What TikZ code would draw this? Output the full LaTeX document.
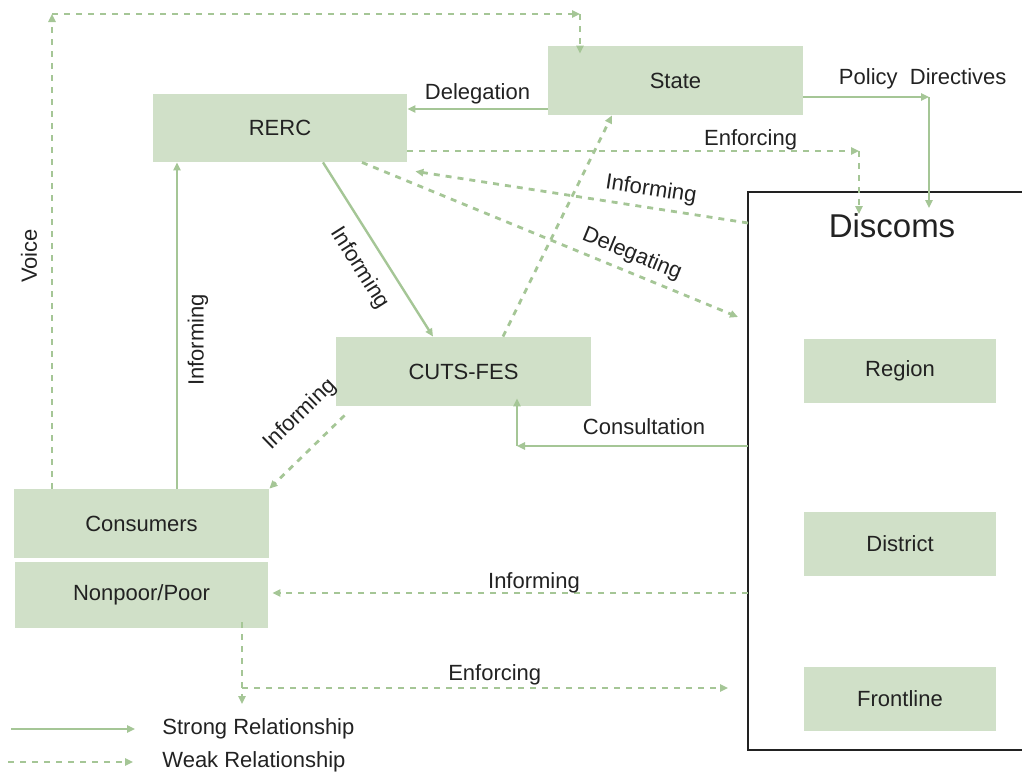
\documentclass[tikz,border=0pt]{standalone}
\usepackage{fontspec}
\setmainfont{Liberation Sans}
\usepackage{xcolor}
\usepackage{tikz}
\usetikzlibrary{positioning, calc, arrows.meta}

\definecolor{boxgreen}{RGB}{208,224,200}
\definecolor{linegreen}{RGB}{165,198,150}
\definecolor{textgray}{RGB}{34,34,34}

\begin{document}
\begin{tikzpicture}[
    x=0.5pt, y=-0.5pt,
    box/.style={rectangle, fill=boxgreen, minimum width=127.5pt, minimum height=34.5pt, align=center, inner sep=0pt, text=textgray, font=\fontsize{11}{13}\selectfont},
    subbox/.style={box, minimum width=96pt, minimum height=32pt},
    strong_arrow/.style={-{Triangle[length=4pt, width=3.6pt]}, line width=1.2pt, linegreen},
    weak_arrow/.style={-{Triangle[length=4pt, width=3.6pt]}, line width=1.4pt, linegreen, dash pattern=on 3pt off 3pt},
    label_style/.style={font=\fontsize{11}{13}\selectfont, text=textgray, inner sep=1pt}
]
    \useasboundingbox (0,0) rectangle (1022,771);

    % Discoms frame with its levels
    \draw[line width=0.8pt, textgray] (748,192) rectangle (1030,750);
    \node[font=\fontsize{16.5}{19}\selectfont, text=textgray] (discoms) at (892,226) {Discoms};
    \coordinate (dleft) at (748,192);
    \node[subbox] (region) at (900,371) {Region};
    \node[subbox] (district) at (900,543.5) {District};
    \node[subbox] (frontline) at (900,698.5) {Frontline};

    % Actors
    \node[box] (state) at (675.5,80.5) {State};
    \node[box, minimum width=127pt, minimum height=34pt] (rerc) at (280,128) {RERC};
    \node[box] (cuts) at (463.5,371.5) {CUTS-FES};
    \node[box] (cons) at (141.5,523.5) {Consumers};
    \node[box, minimum width=126.5pt, minimum height=33pt] (poor) at (141.5,595) {Nonpoor/Poor};

    % Bends
    \coordinate (v1) at (52,14);
    \coordinate (v2) at (580,14);
    \coordinate (pd) at (929,97);
    \coordinate (e1) at (859,151);
    \coordinate (c1) at (517,446);
    \coordinate (b1) at (242,688);

    % Voice
    \draw[weak_arrow] (cons.north -| v1) -- (v1);
    \draw[weak_arrow] (v1) -- (v2);
    \draw[weak_arrow] (v2) -- ([yshift=-4]state.north -| v2);
    \node[label_style, rotate=90] (voice) at (29,256) {Voice};

    % State
    \draw[strong_arrow] (state.west |- 0,109) -- node[label_style, above=1pt] {Delegation} (rerc.east |- 0,109);
    \draw[strong_arrow] (state.east |- pd) -- node[label_style, pos=0.95, above=2.5pt] {Policy\ \ Directives} (pd);
    \draw[strong_arrow] (pd) -- ([yshift=-8]dleft -| pd);

    % RERC
    \draw[weak_arrow] (rerc.east |- e1) -- node[label_style, pos=0.76, above=-1pt] {Enforcing} (e1);
    \draw[weak_arrow] (e1) -- ([yshift=-11]dleft -| e1);
    \draw[weak_arrow] (dleft |- 0,223) -- node[label_style, sloped, pos=0.3, above=2pt] {Informing} ([shift={(8,9)}]rerc.south east);
    \draw[weak_arrow] (rerc.south -| 362,0) -- node[label_style, sloped, pos=0.7, above=2pt] {Delegating} ([xshift=-5]dleft |- 0,317);
    \draw[strong_arrow] (rerc.south -| 323,0) -- node[label_style, sloped, pos=0.53, below=6pt] {Informing} (cuts.north -| 433,0);

    % CUTS-FES
    \draw[weak_arrow] (cuts.north -| 503,0) -- (state.south -| 612,0);
    \draw[weak_arrow] ([shift={(9,9)}]cuts.south west) -- node[label_style, sloped, pos=0.3, above=9pt] {Informing} (cons.north east);

    % Consumers
    \draw[strong_arrow] (cons.north -| 177,0) -- (rerc.south -| 177,0);
    \node[label_style, rotate=90] (cinform) at (198,340) {Informing};

    % Discoms
    \draw[strong_arrow] (dleft |- c1) -- node[label_style, pos=0.45, above=4pt] {Consultation} (c1);
    \draw[strong_arrow] (c1) -- ([yshift=4]cuts.south -| c1);
    \draw[weak_arrow] (dleft |- 0,593) -- node[label_style, pos=0.45, above=-1.5pt] {Informing} ([xshift=2]poor.east |- 0,593);
    \draw[weak_arrow] ([yshift=3]poor.south -| b1) -- ([yshift=-8]b1);
    \draw[weak_arrow] (b1) -- node[label_style, pos=0.52, above=0pt] {Enforcing} ([xshift=-10]dleft |- b1);

    % Legend
    \coordinate (ls1) at (11,729);
    \coordinate (ls2) at (135,729);
    \coordinate (lw1) at (8,762);
    \coordinate (lw2) at (133,762);
    \draw[strong_arrow] (ls1) -- (ls2);
    \draw[weak_arrow] (lw1) -- (lw2);
    \node[label_style, anchor=west] (strong) at (160,729) {Strong\ Relationship};
    \node[label_style, anchor=west] (weak) at (160,762) {Weak\ Relationship};
\end{tikzpicture}
\end{document}
